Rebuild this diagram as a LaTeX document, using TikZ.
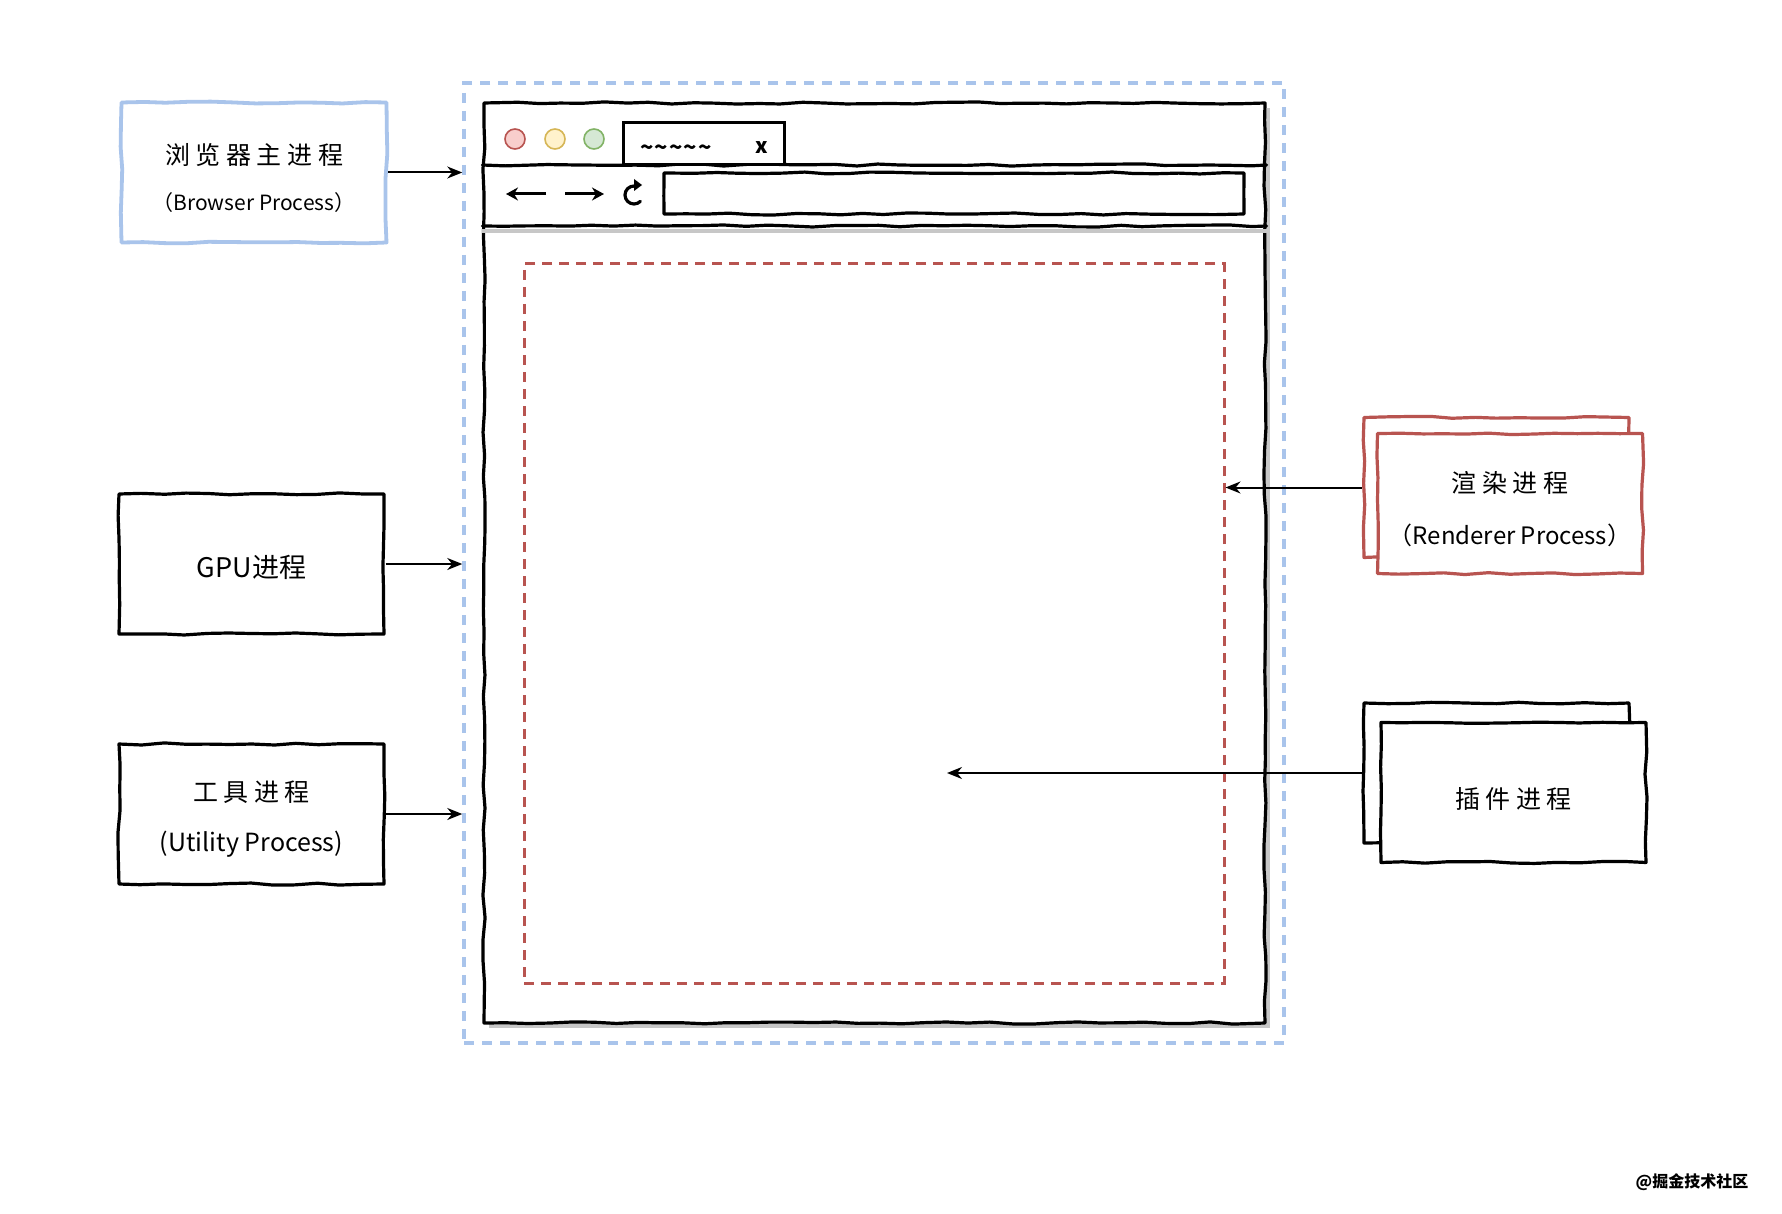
\documentclass[tikz,border=0pt]{standalone}
\usepackage{fontspec}
\setmainfont{Noto Sans CJK SC}
\usetikzlibrary{arrows.meta,decorations.pathmorphing}
\definecolor{pblue}{RGB}{169,196,235}
\definecolor{rstroke}{RGB}{184,84,80}
\definecolor{rfill}{RGB}{248,206,204}
\definecolor{ystroke}{RGB}{214,182,86}
\definecolor{yfill}{RGB}{255,242,204}
\definecolor{gstroke}{RGB}{130,179,102}
\definecolor{gfill}{RGB}{213,232,212}
\tikzset{
  sketch/.style={decorate, decoration={random steps, segment length=22pt, amplitude=1.1pt}, line join=round, line cap=round},
  blk/.style={draw=black, line width=3.2pt, fill=white, sketch},
  proc/.style={blk, minimum width=265pt, minimum height=140pt, inner sep=0pt},
  bigtxt/.style={font=\fontsize{25}{30}\selectfont, inner sep=0pt},
  arr/.style={line width=2pt, -{Stealth[length=15pt,width=12pt]}},
  navarr/.style={line width=3pt, -{Stealth[length=12pt,width=13pt]}},
  dot/.style={circle, minimum size=20pt, inner sep=0pt, line width=1.6pt},
}
\begin{document}
\begin{tikzpicture}[x=1pt,y=-1pt]
\pgfmathsetseed{7}
\useasboundingbox[fill=white] (0,0) rectangle (1782,1214);

% outer dashed container
\node[draw=pblue, line width=3.5pt, dash pattern=on 10pt off 8pt, minimum width=820pt, minimum height=960pt, inner sep=0pt] (outer) at (874,563) {};

% browser window shadow + window
\fill[black!22] (489,108) rectangle (1270,1028);
\node[blk, minimum width=781pt, minimum height=920pt, inner sep=0pt] (win) at (874.5,563) {};
\coordinate (sep1) at (0,165);
\coordinate (sep2) at (0,226);
\draw[black!22, line width=4pt] ([yshift=-5pt]win.west |- sep2) -- ([yshift=-5pt]win.east |- sep2);
\draw[line width=3.2pt, sketch] (win.west |- sep1) -- (win.east |- sep1);
\draw[line width=3.2pt, sketch] (win.west |- sep2) -- (win.east |- sep2);

% traffic lights
\node[dot, draw=rstroke, fill=rfill] (c1) at (515,139) {};
\node[dot, draw=ystroke, fill=yfill] (c2) at (555,139) {};
\node[dot, draw=gstroke, fill=gfill] (c3) at (594,139) {};

% tab
\node[draw=black, line width=3pt, fill=white, minimum width=161pt, minimum height=42pt, inner sep=0pt] (tab) at (703.5,144) {};
\node[font=\fontsize{22}{26}\selectfont\bfseries, inner sep=0pt] (tabtxt) at (676,150) {\textasciitilde\kern1pt\textasciitilde\kern1pt\textasciitilde\kern1pt\textasciitilde\kern1pt\textasciitilde};
\node[font=\fontsize{21}{24}\selectfont\bfseries, inner sep=0pt] (tabx) at (762,148) {x};

% nav arrows and reload
\coordinate (bk1) at (546,194);
\coordinate (bk2) at (506,194);
\coordinate (fw1) at (565,194);
\coordinate (fw2) at (604,194);
\draw[navarr] (bk1) -- (bk2);
\draw[navarr] (fw1) -- (fw2);
\coordinate (reload) at (634,195);
\draw[line width=3.2pt, line cap=round] ([shift={(45:9)}]reload) arc[start angle=45, end angle=272, radius=9];
\fill (reload) ++(0,-16) -- ++(8,6) -- ++(-8,6) -- cycle;

% url bar
\node[blk, minimum width=580pt, minimum height=41pt, inner sep=0pt] (url) at (954,193.5) {};

% red dashed content area
\node[draw=rstroke, line width=3pt, dash pattern=on 10pt off 7pt, minimum width=700pt, minimum height=719pt, inner sep=0pt] (content) at (874,623.5) {};

% left processes
\node[proc, draw=pblue, line width=3.8pt] (browser) at (254,172.5) {};
\node[bigtxt] (browser1) at ([yshift=17.5pt]browser.center) {浏 览 器 主 进 程};
\node[font=\fontsize{21}{24}\selectfont, inner sep=0pt] (browser2) at ([yshift=-30.5pt]browser.center) {（Browser Process）};

\node[proc] (gpu) at (251.5,564) {};
\node[font=\fontsize{27}{30}\selectfont, inner sep=0pt] (gpu1) at ([yshift=-3pt]gpu.center) {GPU进程};

\node[proc] (util) at (251.5,814) {};
\node[bigtxt] (util1) at ([yshift=22pt]util.center) {工 具 进 程};
\node[font=\fontsize{25}{28}\selectfont, inner sep=0pt] (util2) at ([yshift=-30pt]util.center) {(Utility Process)};

\draw[arr] (browser.east) -- (browser.east -| outer.west);
\draw[arr] (gpu.east) -- (gpu.east -| outer.west);
\draw[arr] (util.east) -- (util.east -| outer.west);

% right processes
\node[proc, draw=rstroke] (rback) at (1496.5,487.5) {};
\node[proc, draw=rstroke] (rfront) at (1510,503.5) {};
\node[bigtxt] (r1) at ([yshift=20.5pt]rfront.center) {渲 染 进 程};
\node[font=\fontsize{24}{28}\selectfont, inner sep=0pt] (r2) at ([yshift=-31.5pt]rfront.center) {（Renderer Process）};

\node[proc] (pback) at (1496.5,773) {};
\node[proc] (pfront) at (1513.5,792.5) {};
\node[bigtxt] (p1) at ([yshift=-6.5pt]pfront.center) {插 件 进 程};

\draw[arr] (rback.west) -- (rback.west -| content.east);
\coordinate (plugend) at (947,773);
\draw[arr] (pback.west) -- (plugend);

% watermark
\node[font=\fontsize{16}{18}\selectfont\bfseries, inner sep=0pt] (wm) at (1692,1182) {@掘金技术社区};
\end{tikzpicture}
\end{document}
